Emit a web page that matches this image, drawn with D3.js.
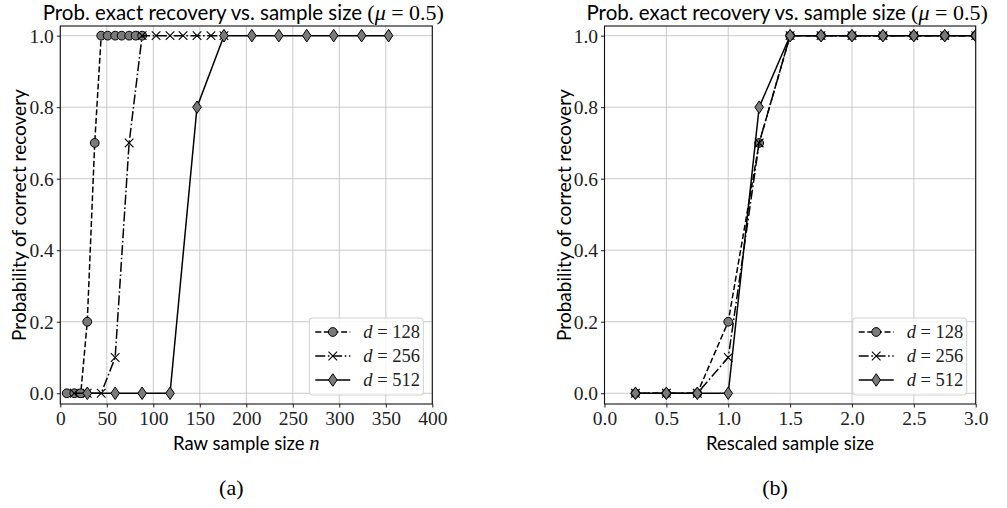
<!DOCTYPE html>
<html>
<head>
<meta charset="utf-8">
<script src="https://cdn.jsdelivr.net/npm/d3@7"></script>
<style>
  html, body { margin: 0; padding: 0; background: #fff; }
  svg { display: block; }
</style>
</head>
<body>
<svg id="chart" width="1007" height="508"></svg>
<script>
// ---------------- data ----------------
const seriesNames = ["d = 128", "d = 256", "d = 512"];
const rescaledSize = [0.25, 0.5, 0.75, 1.0, 1.25, 1.5, 1.75, 2.0, 2.25, 2.5, 2.75, 3.0];
const rawSize128 = [7, 15, 22, 29, 37, 44, 51, 59, 66, 74, 81, 88];
const rawSize256 = [15, 29, 44, 59, 74, 88, 103, 118, 132, 147, 162, 176];
const rawSize512 = [29, 59, 88, 118, 147, 176, 206, 235, 265, 294, 324, 353];
const prob128 = [0, 0, 0, 0.2, 0.7, 1, 1, 1, 1, 1, 1, 1];
const prob256 = [0, 0, 0, 0.1, 0.7, 1, 1, 1, 1, 1, 1, 1];
const prob512 = [0, 0, 0, 0, 0.8, 1, 1, 1, 1, 1, 1, 1];
const xTicksRaw = [0, 50, 100, 150, 200, 250, 300, 350, 400];
const xTicksRescaled = [0.0, 0.5, 1.0, 1.5, 2.0, 2.5, 3.0];
const yTicks = [0.0, 0.2, 0.4, 0.6, 0.8, 1.0];
const titleText = "Prob. exact recovery vs. sample size ";
const yLabelText = "Probability of correct recovery";
const xLabelRaw = "Raw sample size ";
const xLabelRescaled = "Rescaled sample size";
const captions = ["(a)", "(b)"];

// ---------------- style ----------------
const SANS = "Lato, 'Open Sans', 'DejaVu Sans', sans-serif";
const SERIF = "'Liberation Serif', 'DejaVu Serif', serif";
const markerFill = "#7a7a7a";
const styles = [
  { marker: "circle", dash: "6,2.6" },
  { marker: "cross", dash: "10,2.6,1.6,2.6" },
  { marker: "diamond", dash: null }
];

const svg = d3.select("#chart");
const plotTop = 26, plotBottom = 404;
const y = d3.scaleLinear().domain([-0.03, 1.027]).range([plotBottom, plotTop]);

function drawMarker(g, kind, cx, cy) {
  if (kind === "circle") {
    g.append("circle").attr("cx", cx).attr("cy", cy).attr("r", 4.4)
      .attr("fill", markerFill).attr("stroke", "#000").attr("stroke-width", 1);
  } else if (kind === "cross") {
    const a = 4.3;
    g.append("path").attr("d", `M${cx-a},${cy-a}L${cx+a},${cy+a}M${cx-a},${cy+a}L${cx+a},${cy-a}`)
      .attr("stroke", "#000").attr("stroke-width", 1.1).attr("fill", "none");
  } else {
    const w = 4.3, h = 6.3;
    g.append("path").attr("d", `M${cx},${cy-h}L${cx+w},${cy}L${cx},${cy+h}L${cx-w},${cy}Z`)
      .attr("fill", markerFill).attr("stroke", "#000").attr("stroke-width", 1);
  }
}

function panel(idx, left, right, domain, xTicks, xFmt, xsArr, xLabel, xLabelMath) {
  const x = d3.scaleLinear().domain(domain).range([left, right]);
  const g = svg.append("g");
  const clipId = "clip" + idx;
  svg.append("clipPath").attr("id", clipId).append("rect")
    .attr("x", left).attr("y", plotTop).attr("width", right - left).attr("height", plotBottom - plotTop);

  // grid
  const grid = g.append("g").attr("stroke", "#c4c4c4").attr("stroke-width", 0.9);
  xTicks.forEach(t => grid.append("line").attr("x1", x(t)).attr("x2", x(t)).attr("y1", plotTop).attr("y2", plotBottom));
  yTicks.forEach(t => grid.append("line").attr("x1", left).attr("x2", right).attr("y1", y(t)).attr("y2", y(t)));

  // axes
  const xAxis = d3.axisBottom(x).tickValues(xTicks).tickFormat(xFmt).tickSize(3.5).tickPadding(2);
  const yAxis = d3.axisLeft(y).tickValues(yTicks).tickFormat(d3.format(".1f")).tickSize(3.5).tickPadding(3);
  const gx = g.append("g").attr("transform", `translate(0,${plotBottom})`).call(xAxis);
  const gy = g.append("g").attr("transform", `translate(${left},0)`).call(yAxis);
  [gx, gy].forEach(a => {
    a.select(".domain").remove();
    a.selectAll("text").attr("font-family", SERIF).attr("font-size", 19.5).attr("fill", "#222");
    a.selectAll("line").attr("stroke", "#000").attr("stroke-width", 0.9);
  });
  gx.selectAll("text").attr("dy", "0.8em");
  gy.selectAll("text").attr("dy", "0.34em");

  // series
  const probs = [prob128, prob256, prob512];
  const sg = g.append("g").attr("clip-path", `url(#${clipId})`);
  probs.forEach((p, k) => {
    const xs = xsArr[k];
    const pts = xs.map((v, i) => [x(v), y(p[i])]);
    sg.append("path").attr("d", d3.line()(pts)).attr("fill", "none")
      .attr("stroke", "#000").attr("stroke-width", 1.5)
      .attr("stroke-dasharray", styles[k].dash);
    pts.forEach(pt => drawMarker(sg, styles[k].marker, pt[0], pt[1]));
  });

  // frame
  g.append("rect").attr("x", left).attr("y", plotTop).attr("width", right - left).attr("height", plotBottom - plotTop)
    .attr("fill", "none").attr("stroke", "#111").attr("stroke-width", 1.1);

  const cx = (left + right) / 2;
  // title
  const tt = g.append("text").attr("x", cx - 3).attr("y", 20).attr("text-anchor", "middle")
    .attr("font-size", 20.5).attr("fill", "#000");
  tt.append("tspan").attr("font-family", SANS).text(titleText);
  tt.append("tspan").attr("font-family", SERIF).attr("font-size", 22).text("(");
  tt.append("tspan").attr("font-family", SERIF).attr("font-style", "italic").attr("font-size", 22).text("μ");
  tt.append("tspan").attr("font-family", SERIF).attr("font-size", 22).text(" = 0.5)");

  // x label
  const xl = g.append("text").attr("x", cx).attr("y", 450).attr("text-anchor", "middle")
    .attr("font-size", 18.5).attr("fill", "#000");
  xl.append("tspan").attr("font-family", SANS).text(xLabel);
  if (xLabelMath) xl.append("tspan").attr("font-family", SERIF).attr("font-style", "italic").attr("font-size", 20.5).text(xLabelMath);

  // y label
  g.append("text").attr("transform", `translate(${left - 34},${(plotTop + plotBottom) / 2}) rotate(-90)`)
    .attr("text-anchor", "middle").attr("font-family", SANS).attr("font-size", 19).attr("fill", "#000")
    .text(yLabelText);

  // legend
  const lx = right - 9 - 114, ly = plotBottom - 9 - 77;
  const lg = g.append("g");
  lg.append("rect").attr("x", lx).attr("y", ly).attr("width", 114).attr("height", 77).attr("rx", 3)
    .attr("fill", "#fff").attr("fill-opacity", 0.8).attr("stroke", "#d0d0d0").attr("stroke-width", 1);
  seriesNames.forEach((name, k) => {
    const ry = ly + 14 + k * 24;
    lg.append("line").attr("x1", lx + 6).attr("x2", lx + 41).attr("y1", ry).attr("y2", ry)
      .attr("stroke", "#000").attr("stroke-width", 1.5).attr("stroke-dasharray", styles[k].dash);
    drawMarker(lg, styles[k].marker, lx + 23.5, ry);
    const t = lg.append("text").attr("x", lx + 54).attr("y", ry).attr("dy", "0.33em")
      .attr("font-family", SERIF).attr("font-size", 18.5).attr("fill", "#222");
    t.append("tspan").attr("font-style", "italic").text("d");
    t.append("tspan").text(name.slice(1));
  });

  // caption
  g.append("text").attr("x", cx - 15).attr("y", 495).attr("text-anchor", "middle")
    .attr("font-family", SERIF).attr("font-size", 22).attr("fill", "#000").text(captions[idx]);
}

panel(0, 60.3, 432.3, [0, 400], xTicksRaw, d3.format("d"),
  [rawSize128, rawSize256, rawSize512], xLabelRaw, "n");
panel(1, 604.5, 975.7, [0, 3], xTicksRescaled, d3.format(".1f"),
  [rescaledSize, rescaledSize, rescaledSize], xLabelRescaled, null);
</script>
</body>
</html>
